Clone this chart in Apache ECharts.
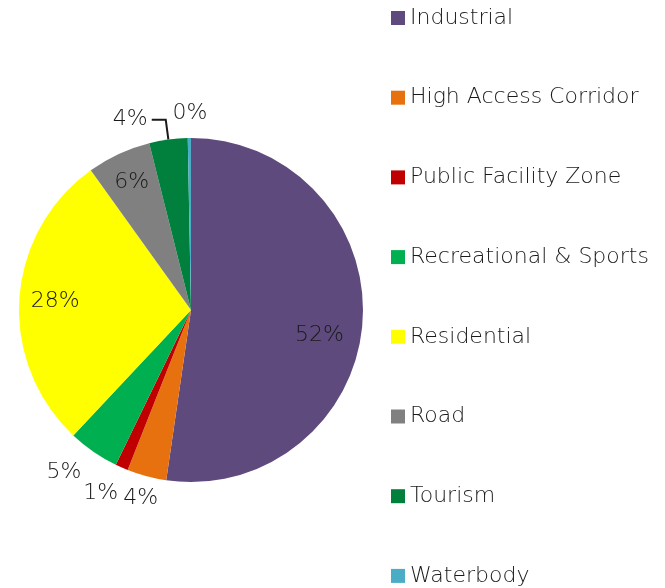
<!DOCTYPE html>
<html lang="en">
<head>
    <meta charset="UTF-8">
    <title>Land use share</title>
    <script src="https://cdn.jsdelivr.net/npm/echarts@6/dist/echarts.min.js"></script>
    <style>
        html, body { margin: 0; padding: 0; background: #fff; }
        #main { width: 665px; height: 588px; }
    </style>
</head>
<body>
    <div id="main"></div>
    <script>
        // data
        var categories = ['Industrial', 'High Access Corridor', 'Public Facility Zone', 'Recreational & Sports',
            'Residential', 'Road', 'Tourism', 'Waterbody'];
        var shares = [52.3, 3.7, 1.2, 4.8, 28.1, 6.0, 3.6, 0.3];
        var colors = ['#5e4a7d', '#e8710f', '#c00000', '#00b050', '#ffff00', '#808080', '#007f3d', '#4bacc6'];

        // layout: label distance from centre and small angle nudge (degrees)
        var cx = 191, cy = 310, R = 172;
        var labelRadius = [131, 195, 204, 206, 136, 141, 205, 200];
        var labelNudge = [7, 0, 2.5, 3.5, 0, 0, 0, 0];
        var font = 'DejaVu Sans';

        var total = shares.reduce(function (a, b) { return a + b; }, 0);
        var midAngle = [];
        var acc = 0;
        shares.forEach(function (v, i) {
            midAngle.push((acc + v / 2) / total * 2 * Math.PI + labelNudge[i] * Math.PI / 180);
            acc += v;
        });

        var myChart = echarts.init(document.getElementById('main'));
        var option = {
            animation: false,
            color: colors,
            legend: {
                orient: 'vertical',
                left: 391,
                top: 7,
                padding: 0,
                itemWidth: 14,
                itemHeight: 14,
                itemGap: 57.7,
                icon: 'rect',
                textStyle: { fontFamily: font, fontSize: 22, fontWeight: 200, color: '#1a1a1a', lineHeight: 22 },
                data: categories
            },
            series: [{
                type: 'pie',
                center: [cx, cy],
                radius: [0, R],
                startAngle: 90,
                clockwise: true,
                percentPrecision: 0,
                label: {
                    show: true,
                    position: 'inside',
                    formatter: '{d}%',
                    fontFamily: font,
                    fontSize: 22,
                    fontWeight: 200,
                    color: '#1a1a1a'
                },
                labelLine: { show: false },
                itemStyle: { borderWidth: 0 },
                labelLayout: function (p) {
                    var i = p.dataIndex;
                    if (i === 6) return {};
                    var a = midAngle[i];
                    var out = {
                        x: cx + labelRadius[i] * Math.sin(a),
                        y: cy - labelRadius[i] * Math.cos(a),
                        align: 'center',
                        verticalAlign: 'middle'
                    };
                    if (i === 7) { out.x = 190; out.y = 113; }
                    return out;
                },
                data: categories.map(function (name, i) {
                    var d = { name: name, value: shares[i] };
                    if (i === 6) {
                        d.label = { position: 'outside', distanceToLabelLine: 4 };
                        d.labelLine = { show: true, length: 20, length2: 14, lineStyle: { color: '#1a1a1a', width: 2 } };
                    }
                    return d;
                })
            }]
        };
        myChart.setOption(option);
    </script>
</body>
</html>
